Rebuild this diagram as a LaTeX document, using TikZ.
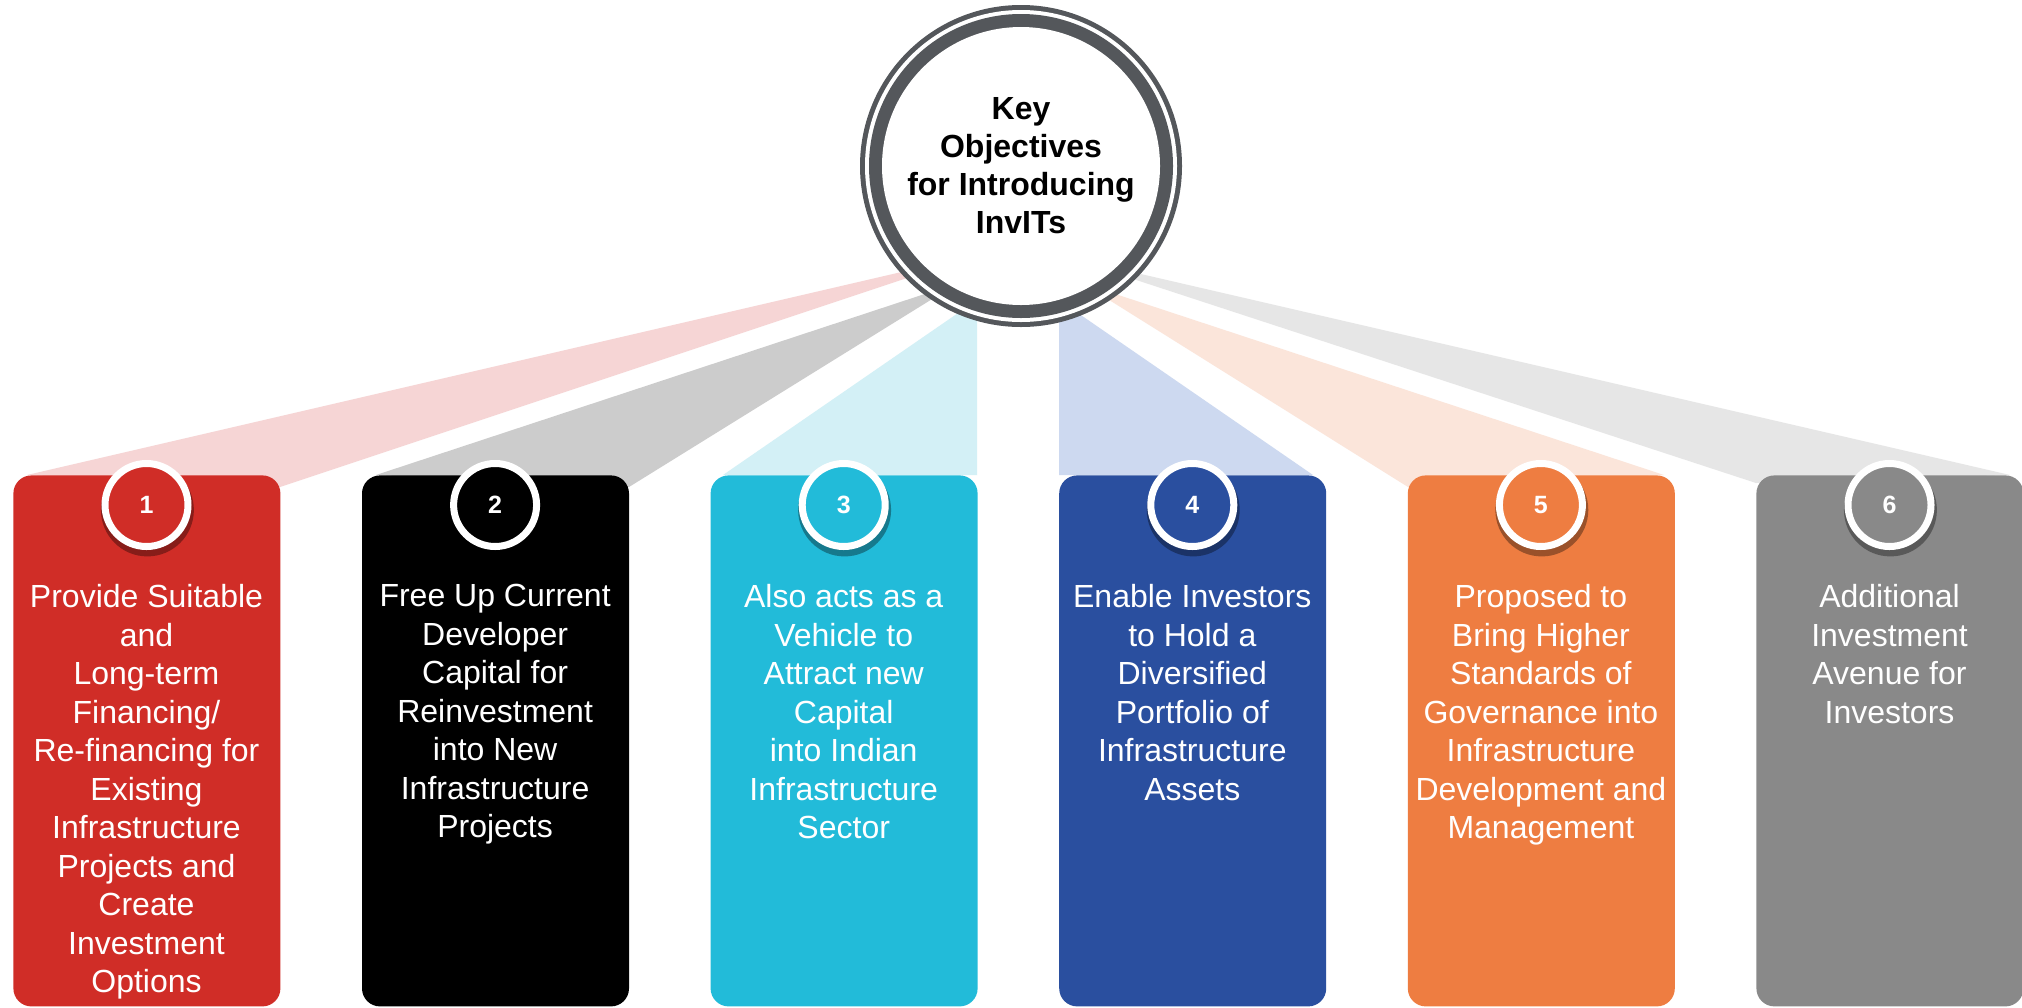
\documentclass[tikz,border=0pt]{standalone}
\usepackage{fontspec}
\setmainfont{Liberation Sans}
\usetikzlibrary{shadows}
\definecolor{ringc}{RGB}{84,87,91}
\definecolor{c1}{RGB}{208,45,39}
\definecolor{c2}{RGB}{0,0,0}
\definecolor{c3}{RGB}{34,187,217}
\definecolor{c4}{RGB}{42,79,159}
\definecolor{c5}{RGB}{238,125,65}
\definecolor{c6}{RGB}{137,137,137}
\definecolor{l1}{RGB}{246,213,213}
\definecolor{l2}{RGB}{204,204,204}
\definecolor{l3}{RGB}{211,240,246}
\definecolor{l4}{RGB}{205,217,240}
\definecolor{l5}{RGB}{251,229,218}
\definecolor{l6}{RGB}{230,230,230}
\begin{document}
\begin{tikzpicture}[x=0.5pt,y=-0.5pt,
  objbox/.style={rectangle, rounded corners=9pt, minimum width=133.5pt, minimum height=265.5pt, inner sep=0pt, anchor=north west},
  numc/.style={circle, draw=white, line width=3.5pt, minimum size=41.5pt, inner sep=0pt,
    text=white, font=\fontsize{12.5}{14}\selectfont\bfseries,
    drop shadow={shadow xshift=0.4pt, shadow yshift=-2.2pt, shadow scale=1.12, opacity=0.35, fill=black}},
  boxtext/.style={text=white, font=\fontsize{16}{19.25}\selectfont, align=center, anchor=north, inner sep=0pt},
  hubring/.style={circle, inner sep=0pt},
  fan/.style={draw=none}
]
\useasboundingbox (0,0) rectangle (2022,1007);
\fill[white] (0,0) rectangle (2022,1007);

% fans
\fill[l1] (27,475) -- (979,254) -- (280,487) -- cycle;
\fill[l2] (376,475) -- (958,283) -- (629,487) -- cycle;
\fill[l3] (723,475) -- (977,300) -- (977,475) -- cycle;
\fill[l4] (1059,475) -- (1059,300) -- (1313,475) -- cycle;
\fill[l5] (1408,487) -- (1082,283) -- (1664,475) -- cycle;
\fill[l6] (1756,483) -- (1063,256) -- (2010,475) -- cycle;

% hub
\node[hubring, fill=ringc, minimum size=161pt] (hub) at (1021,166) {};
\node[hubring, fill=white, minimum size=156pt] (hubgap) at (hub.center) {};
\node[hubring, fill=ringc, minimum size=152pt] (hubring) at (hub.center) {};
\node[hubring, fill=white, minimum size=139pt] (hubin) at (hub.center) {};
\node[align=center, font=\fontsize{16}{19}\selectfont\bfseries, inner sep=0pt] (title) at (hub.center)
  {Key\\Objectives\\for Introducing\\InvITs};

% boxes
\node[objbox, fill=c1] (b1) at (13,475) {};
\node[objbox, fill=c2] (b2) at (361.6,475) {};
\node[objbox, fill=c3] (b3) at (710.2,475) {};
\node[objbox, fill=c4] (b4) at (1058.8,475) {};
\node[objbox, fill=c5] (b5) at (1407.4,475) {};
\node[objbox, fill=c6] (b6) at (1756,475) {};

% numbers
\node[numc, fill=c1] (n1) at (146.5,505) {1};
\node[numc, fill=c2] (n2) at (495.1,505) {2};
\node[numc, fill=c3] (n3) at (843.7,505) {3};
\node[numc, fill=c4] (n4) at (1192.3,505) {4};
\node[numc, fill=c5] (n5) at (1540.9,505) {5};
\node[numc, fill=c6] (n6) at (1889.5,505) {6};

% texts
\node[boxtext] (t1) at (146.5,584) {Provide Suitable\\and\\Long-term\\Financing/\\Re-financing for\\Existing\\Infrastructure\\Projects and\\Create\\Investment\\Options};
\node[boxtext] (t2) at (495.1,584) {Free Up Current\\Developer\\Capital for\\Reinvestment\\into New\\Infrastructure\\Projects};
\node[boxtext] (t3) at (843.7,584) {Also acts as a\\Vehicle to\\Attract new\\Capital\\into Indian\\Infrastructure\\Sector};
\node[boxtext] (t4) at (1192.3,584) {Enable Investors\\to Hold a\\Diversified\\Portfolio of\\Infrastructure\\Assets};
\node[boxtext] (t5) at (1540.9,584) {Proposed to\\Bring Higher\\Standards of\\Governance into\\Infrastructure\\Development and\\Management};
\node[boxtext] (t6) at (1889.5,584) {Additional\\Investment\\Avenue for\\Investors};
\end{tikzpicture}
\end{document}
